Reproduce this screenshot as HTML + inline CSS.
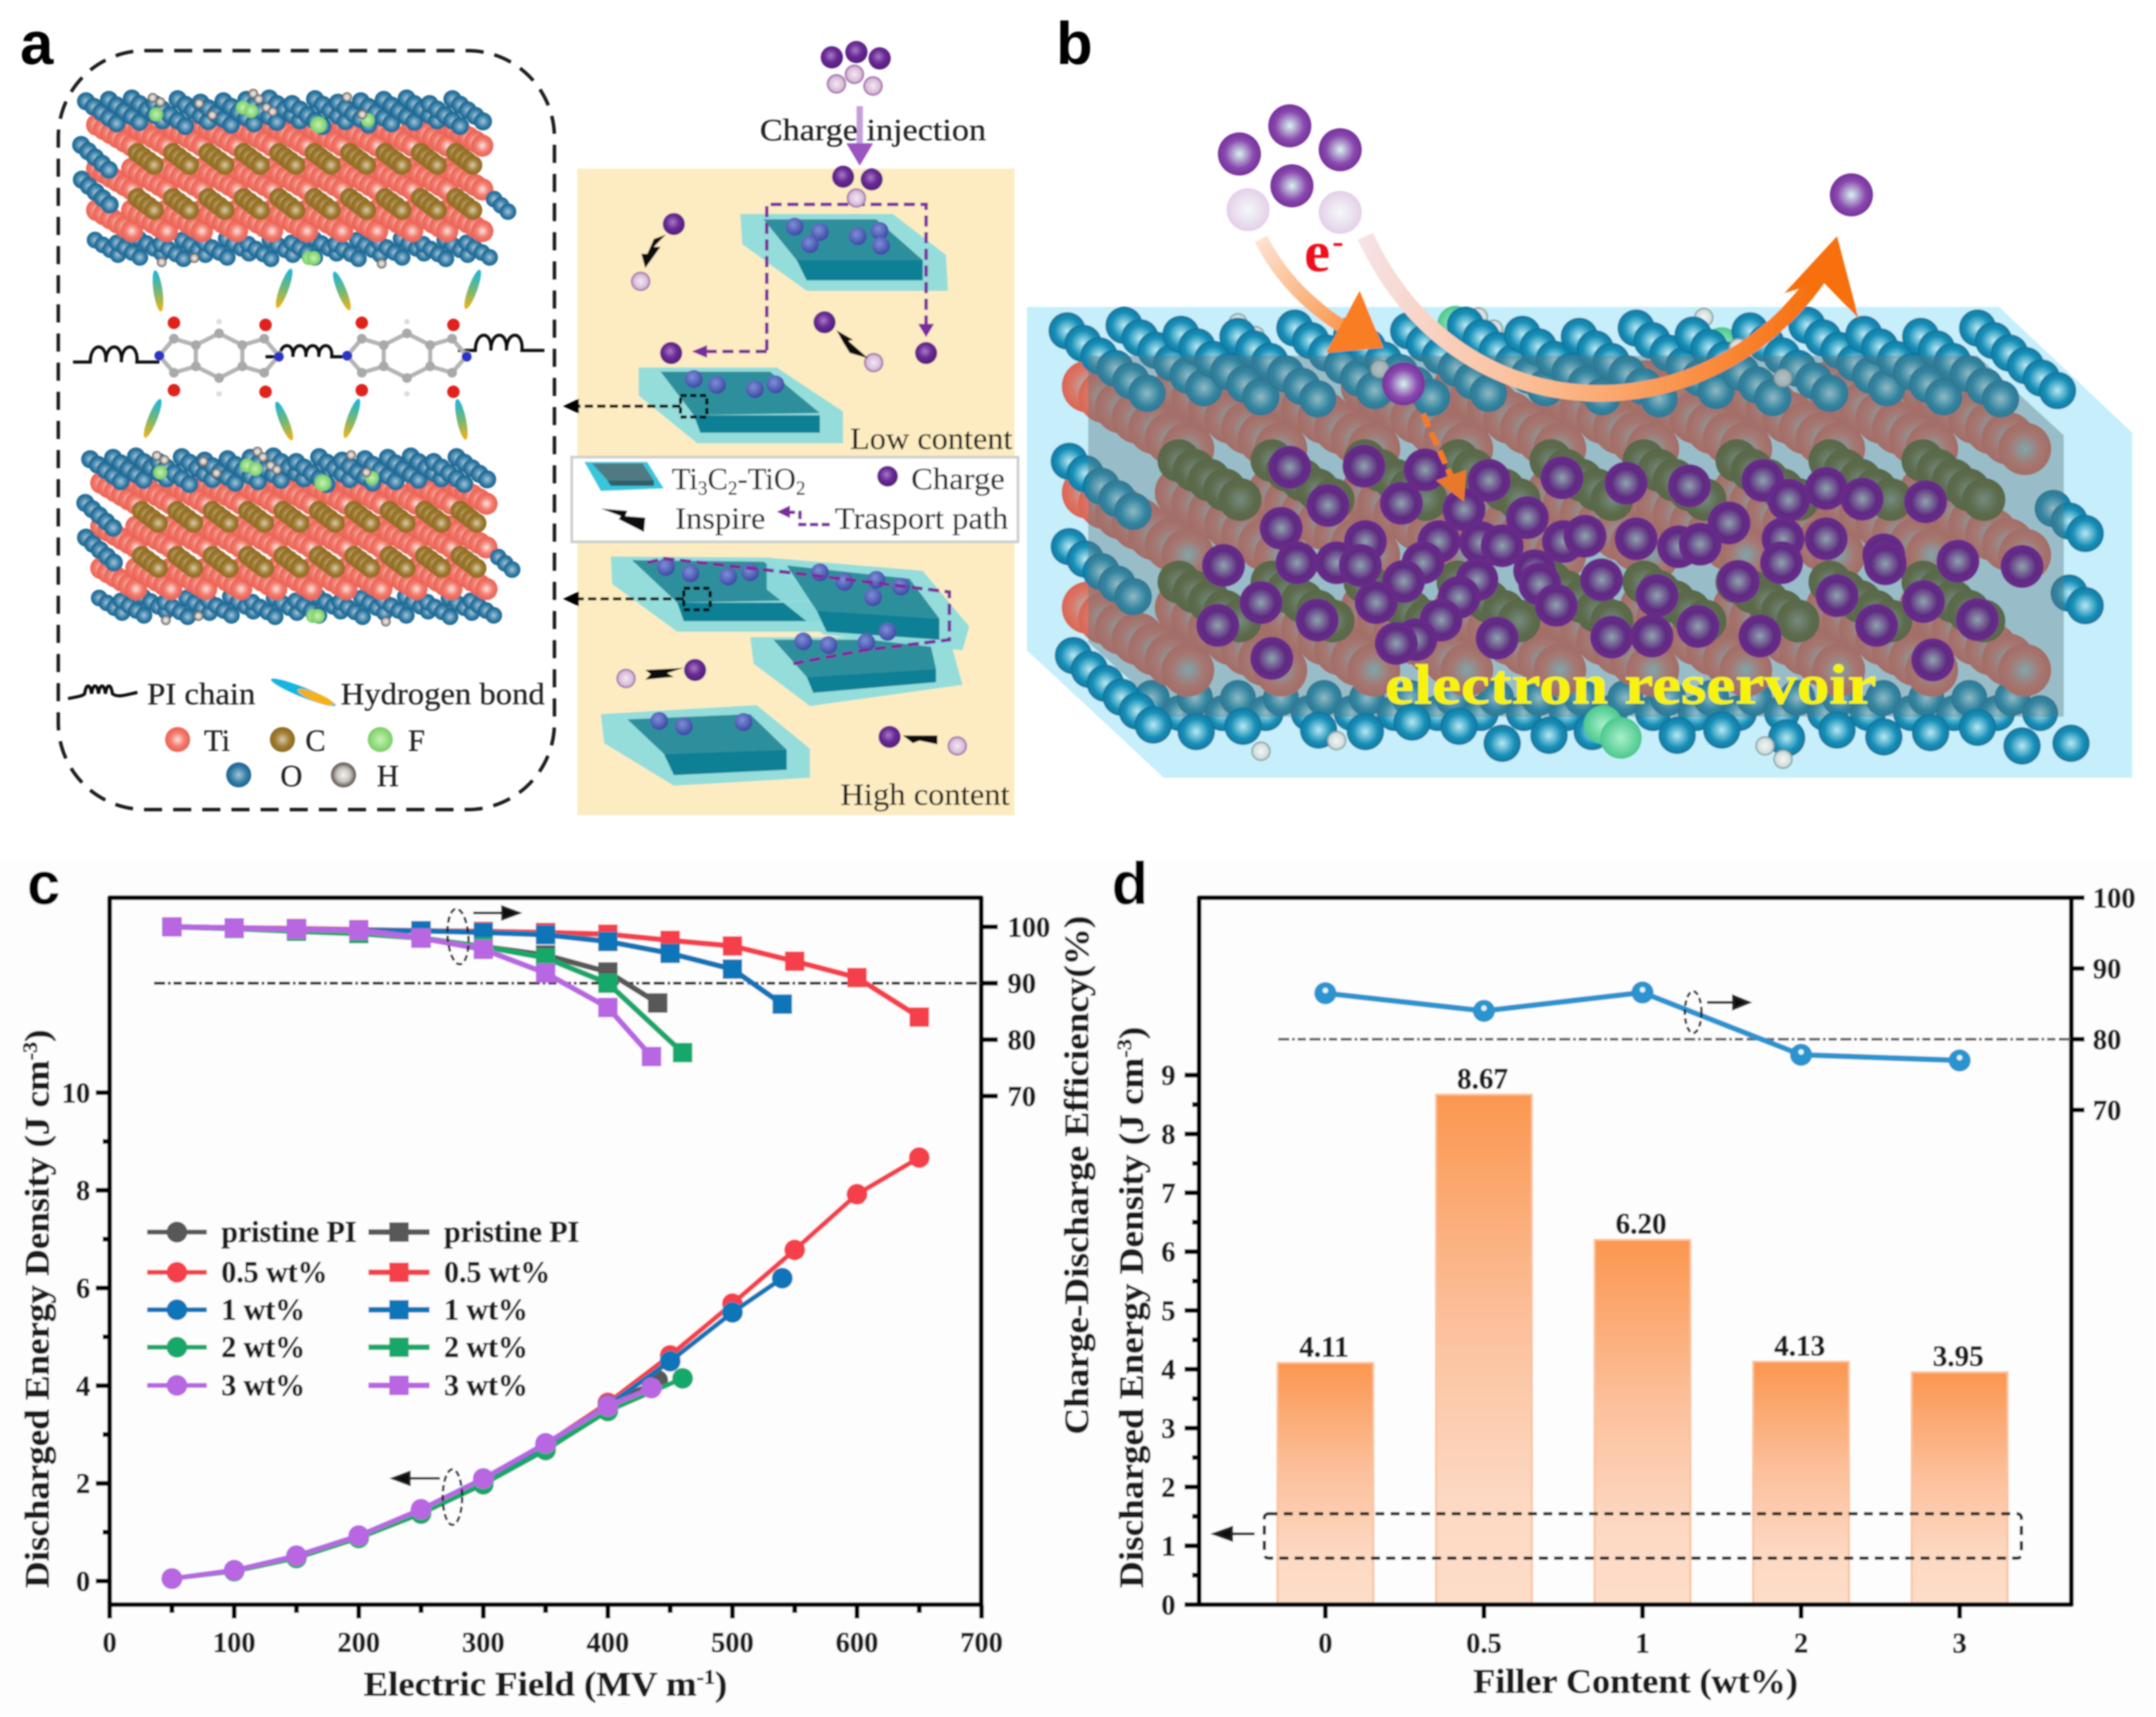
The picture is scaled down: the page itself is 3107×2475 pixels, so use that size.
<!DOCTYPE html>
<html lang="en">
<head>
<meta charset="utf-8">
<title>Electron reservoir composite figure</title>
<style>
html,body{margin:0;padding:0;background:#fff;width:3107px;height:2475px;overflow:hidden}
svg{display:block}
text{font-family:"Liberation Serif",serif;fill:#1c1c1c}
.b{font-weight:bold;stroke:#1c1c1c;stroke-width:.7px}
.lab{font-family:"Liberation Sans",sans-serif;font-weight:bold;font-size:86px;fill:#000}
.note{font-size:44px;fill:#222;stroke:#222;stroke-width:.3px}
</style>
</head>
<body>
<svg xmlns="http://www.w3.org/2000/svg" width="3107" height="2475" viewBox="0 0 3107 2475">
<defs>
<filter id="soft" filterUnits="userSpaceOnUse" x="0" y="0" width="3107" height="2475"><feGaussianBlur stdDeviation="1.1"/></filter>
<radialGradient id="gTi" cx=".5" cy=".5" r=".55"><stop offset="0" stop-color="#fce4df"/><stop offset=".5" stop-color="#f27d6f"/><stop offset="1" stop-color="#e9594b"/></radialGradient>
<radialGradient id="gC" cx=".5" cy=".5" r=".55"><stop offset="0" stop-color="#d9cbb0"/><stop offset=".55" stop-color="#a07c30"/><stop offset="1" stop-color="#86641e"/></radialGradient>
<radialGradient id="gO" cx=".5" cy=".5" r=".55"><stop offset="0" stop-color="#a9c4d6"/><stop offset=".6" stop-color="#2f7ca6"/><stop offset="1" stop-color="#175a85"/></radialGradient>
<radialGradient id="gF" cx=".5" cy=".5" r=".55"><stop offset="0" stop-color="#c8f2b4"/><stop offset="1" stop-color="#6fcb5c"/></radialGradient>
<radialGradient id="gH" cx=".5" cy=".5" r=".55"><stop offset="0" stop-color="#f4f4f4"/><stop offset=".5" stop-color="#c8c2bd"/><stop offset="1" stop-color="#3c342c"/></radialGradient>
<radialGradient id="gP" cx=".45" cy=".42" r=".6"><stop offset="0" stop-color="#a77cc4"/><stop offset=".5" stop-color="#6a2a96"/><stop offset="1" stop-color="#4f1d78"/></radialGradient>
<radialGradient id="gPale" cx=".5" cy=".5" r=".55"><stop offset="0" stop-color="#f4e9f3"/><stop offset=".65" stop-color="#d8bcd8"/><stop offset="1" stop-color="#7d3f8c"/></radialGradient>
<radialGradient id="gDot" cx=".42" cy=".38" r=".62"><stop offset="0" stop-color="#7f8fd6"/><stop offset="1" stop-color="#3a48a5"/></radialGradient>
<radialGradient id="bTi" cx=".5" cy=".5" r=".55"><stop offset="0" stop-color="#9cc8c8"/><stop offset=".55" stop-color="#dc7868"/><stop offset="1" stop-color="#d8604f"/></radialGradient>
<radialGradient id="bC" cx=".5" cy=".5" r=".55"><stop offset="0" stop-color="#8a9a80"/><stop offset=".6" stop-color="#5e6428"/><stop offset="1" stop-color="#565c1e"/></radialGradient>
<radialGradient id="bO" cx=".5" cy=".5" r=".55"><stop offset="0" stop-color="#b8eaf5"/><stop offset=".6" stop-color="#1990b8"/><stop offset="1" stop-color="#0b6f98"/></radialGradient>
<radialGradient id="bP" cx=".5" cy=".5" r=".55"><stop offset="0" stop-color="#8fa5ad"/><stop offset=".6" stop-color="#5f2a82"/><stop offset="1" stop-color="#6e2a8e"/></radialGradient>
<radialGradient id="bPt" cx=".5" cy=".5" r=".55"><stop offset="0" stop-color="#d8f5f0"/><stop offset=".6" stop-color="#8a4aae"/><stop offset="1" stop-color="#6f2a96"/></radialGradient>
<radialGradient id="bPale" cx=".5" cy=".5" r=".55"><stop offset="0" stop-color="#f4fafa"/><stop offset="1" stop-color="#e2cbe6"/></radialGradient>
<radialGradient id="bF" cx=".5" cy=".5" r=".55"><stop offset="0" stop-color="#a8f0c8"/><stop offset="1" stop-color="#3fc488"/></radialGradient>
<radialGradient id="bH" cx=".5" cy=".5" r=".55"><stop offset="0" stop-color="#f4f8f6"/><stop offset=".7" stop-color="#cfdcdc"/><stop offset="1" stop-color="#4b6562"/></radialGradient>
<linearGradient id="barFill" x1="0" y1="0" x2="0" y2="1"><stop offset="0" stop-color="#fb9750"/><stop offset=".45" stop-color="#fcc09c"/><stop offset=".8" stop-color="#fdd9c3"/><stop offset="1" stop-color="#fdddc9"/></linearGradient>
<linearGradient id="hb1" x1="0" y1="0" x2="0" y2="1"><stop offset="0" stop-color="#19b4e0"/><stop offset=".5" stop-color="#6fb878"/><stop offset="1" stop-color="#f5b112"/></linearGradient>
<linearGradient id="arrowA" gradientUnits="userSpaceOnUse" x1="1820" y1="340" x2="1990" y2="510"><stop offset="0" stop-color="#fde3d2"/><stop offset="1" stop-color="#f97d20"/></linearGradient>
<linearGradient id="arrowB" gradientUnits="userSpaceOnUse" x1="1960" y1="340" x2="2620" y2="420"><stop offset="0" stop-color="#f6e3e6"/><stop offset=".45" stop-color="#fcb98c"/><stop offset="1" stop-color="#f76f0c"/></linearGradient>
</defs>
<g filter="url(#soft)">
<rect x="0" y="1240" width="3107" height="1235" fill="#fdfdfd"/>

<!-- PANEL A -->
<g id="panelA">
<rect x="84" y="73" width="715" height="1094" rx="125" ry="125" fill="none" stroke="#1a1a1a" stroke-width="5" stroke-dasharray="26 16"/>
<rect x="832" y="243" width="630" height="932" fill="#fdecc1"/>
<g id="stacks"></g>
<g id="bonds"></g>
<g id="flakes"></g>
<rect x="824" y="659" width="643" height="122" fill="#fff" stroke="#cfcfcf" stroke-width="4"/>
<g id="aIcons"></g>
<text class="note" x="1095" y="202" textLength="326" lengthAdjust="spacingAndGlyphs">Charge  injection</text>
<text class="note" x="1225" y="647" textLength="234" lengthAdjust="spacingAndGlyphs">Low content</text>
<text class="note" x="1211" y="1160" textLength="244" lengthAdjust="spacingAndGlyphs">High content</text>
<text class="note" x="968" y="705">Ti<tspan font-size="28" dy="8">3</tspan><tspan dy="-8">C</tspan><tspan font-size="28" dy="8">2</tspan><tspan dy="-8">-TiO</tspan><tspan font-size="28" dy="8">2</tspan></text>
<text class="note" x="1313" y="705" textLength="135" lengthAdjust="spacingAndGlyphs">Charge</text>
<text class="note" x="973" y="762" textLength="130" lengthAdjust="spacingAndGlyphs">Inspire</text>
<text class="note" x="1203" y="762" textLength="250" lengthAdjust="spacingAndGlyphs">Trasport path</text>
<text class="note" x="212" y="1015" textLength="156" lengthAdjust="spacingAndGlyphs">PI chain</text>
<text class="note" x="491" y="1015" textLength="294" lengthAdjust="spacingAndGlyphs">Hydrogen bond</text>
<text class="note" x="294" y="1082">Ti</text>
<text class="note" x="440" y="1082">C</text>
<text class="note" x="588" y="1082">F</text>
<text class="note" x="404" y="1133">O</text>
<text class="note" x="543" y="1133">H</text>
</g>
<text class="lab" x="29" y="92">a</text>

<!-- PANEL B -->
<g id="panelB"></g>
<text class="lab" x="1522" y="92">b</text>

<!-- PANEL C -->
<g id="chartC"></g>
<text class="lab" x="39" y="1303">c</text>
<text class="b" font-size="50" x="524" y="2444" textLength="524" lengthAdjust="spacingAndGlyphs">Electric Field (MV m<tspan font-size="30" dy="-17">-1</tspan><tspan dy="17">)</tspan></text>
<text class="b" font-size="50" transform="translate(70,2289) rotate(-90)" textLength="805" lengthAdjust="spacingAndGlyphs">Discharged Energy Density (J cm<tspan font-size="30" dy="-17">-3</tspan><tspan dy="17">)</tspan></text>

<!-- PANEL D -->
<g id="chartD"></g>
<text class="lab" x="1602" y="1303">d</text>
<text class="b" font-size="50" x="2123" y="2440" textLength="468" lengthAdjust="spacingAndGlyphs">Filler Content (wt%)</text>
<text class="b" font-size="50" transform="translate(1647,2289) rotate(-90)" textLength="809" lengthAdjust="spacingAndGlyphs">Discharged Energy Density (J cm<tspan font-size="30" dy="-17">-3</tspan><tspan dy="17">)</tspan></text>
<text class="b" font-size="50" transform="translate(1568,2068) rotate(-90)" textLength="748" lengthAdjust="spacingAndGlyphs">Charge-Discharge Efficiency(%)</text>
</g>
</svg>

<script>
// ---------- chart c data ----------
var fieldPristine = [50,100,150,200,250,300,350,400,440];
var fieldHalf = [50,100,150,200,250,300,350,400,450,500,550,600,650];
var fieldOne = [50,100,150,200,250,300,350,400,450,500,540];
var fieldTwo = [50,100,150,200,250,300,350,400,460];
var fieldThree = [50,100,150,200,250,300,350,400,435];
var energyPristine = [0.05,0.22,0.5,0.92,1.45,2.05,2.75,3.6,4.11];
var energyHalf = [0.05,0.22,0.5,0.92,1.45,2.08,2.8,3.65,4.62,5.68,6.78,7.92,8.67];
var energyOne = [0.05,0.22,0.5,0.92,1.45,2.08,2.8,3.6,4.5,5.5,6.2];
var energyTwo = [0.05,0.2,0.47,0.88,1.38,1.98,2.68,3.48,4.15];
var energyThree = [0.05,0.22,0.52,0.93,1.47,2.1,2.82,3.58,3.95];
var effPristine = [100,99.8,99.5,99,98,96.5,95,92,86.5];
var effHalf = [100,99.8,99.7,99.5,99.3,99.2,99,98.7,97.6,96.6,93.9,91,84];
var effOne = [100,99.8,99.6,99.4,99.3,99,98.6,97.4,95.3,92.5,86.3];
var effTwo = [100,99.7,99.2,98.8,98,96.5,94.5,90,77.7];
var effThree = [100,99.8,99.6,99.4,98,96,91.8,85.7,77];
var legendLabels = ["pristine PI","0.5 wt%","1 wt%","2 wt%","3 wt%"];
var cXTicks = [0,100,200,300,400,500,600,700];
var cLeftTicks = [0,2,4,6,8,10];
var cLeftMinor = [1,3,5,7,9];
var cRightTicks = [100,90,80,70];
var cReference = 90;

// ---------- chart d data ----------
var fillerCategories = ["0","0.5","1","2","3"];
var fillerEnergy = [4.11,8.67,6.20,4.13,3.95];
var fillerEnergyLabels = ["4.11","8.67","6.20","4.13","3.95"];
var fillerEfficiency = [86.5,84,86.6,77.8,77];
var dLeftTicks = [0,1,2,3,4,5,6,7,8,9];
var dLeftMinor = [0.5,1.5,2.5,3.5,4.5,5.5,6.5,7.5,8.5];
var dRightTicks = [100,90,80,70];
var dReference = 80;

var NS = "http://www.w3.org/2000/svg";
function mk(parent, tag, attrs, txt) {
  var el = document.createElementNS(NS, tag);
  for (var k in attrs) el.setAttribute(k, attrs[k]);
  if (txt !== undefined) el.textContent = txt;
  parent.appendChild(el);
  return el;
}
function $(id){ return document.getElementById(id); }

// ---------- axis functions ----------
function cX(v){ return 158 + v * 1.795; }
function cYL(v){ return 2279 - v * 70.4; }
function cYR(v){ return 1336 + (100 - v) * 8.13; }
function dCat(i){ return 1910 + i * 228.5; }
function dYL(v){ return 2313 - v * 84.8; }
function dYR(v){ return 1294 + (100 - v) * 10.2; }

function drawFrame(g, l, r){
  var el = mk(g, "path", {d:"M"+l+",2313V1294H"+r+"V2313H"+l, fill:"none", stroke:"#000", "stroke-width":7, "stroke-linejoin":"round"});
  
  
}
function tick(g, x1, y1, x2, y2){
  var el = mk(g, "line", {x1:x1,y1:y1,x2:x2,y2:y2,stroke:"#000","stroke-width":7});
  
  
}
function label(g, x, y, s, anchor){
  var el = mk(g, "text", {x:x,y:y,"class":"b","font-size":41,"text-anchor":anchor,dy:".34em"}, s);
  
  
}

// ---------- chart c ----------
(function(){
  var g = $("chartC");
  drawFrame(g, 158, 1414);
  cXTicks.forEach(function(v){
    tick(g, cX(v), 2313, cX(v), 2333);
    label(g, cX(v), 2367, String(v), "middle");
    if (v < 700) tick(g, cX(v+50), 2313, cX(v+50), 2325);
  });
  cLeftTicks.forEach(function(v){
    tick(g, 158, cYL(v), 138, cYL(v));
    label(g, 130, cYL(v), String(v), "end");
  });
  cLeftMinor.forEach(function(v){ tick(g, 158, cYL(v), 148, cYL(v)); });
  cRightTicks.forEach(function(v){
    tick(g, 1414, cYR(v), 1438, cYR(v));
    label(g, 1452, cYR(v), String(v), "start");
  });
  var ref = mk(g, "line", {x1:222,x2:1414,y1:cYR(cReference),y2:cYR(cReference),stroke:"#222","stroke-width":4,"stroke-dasharray":"16 4 4 4 12 5"});
  
  

  var colors = ["#585858","#f5414c","#0d74b8","#12a86a","#b866e2"];
  var xs = [fieldPristine, fieldHalf, fieldOne, fieldTwo, fieldThree];
  var es = [energyPristine, energyHalf, energyOne, energyTwo, energyThree];
  var fs = [effPristine, effHalf, effOne, effTwo, effThree];

  es.forEach(function(series, s){
    var pts = series.map(function(v,i){ return cX(xs[s][i]) + "," + cYL(v); }).join(" ");
    var ln = mk(g, "polyline", {points:pts, fill:"none", stroke:colors[s], "stroke-width":7});
    
    
    series.forEach(function(v,i){
      var c = mk(g, "circle", {cx:cX(xs[s][i]), cy:cYL(v), r:15, fill:colors[s]});
      
      
    });
  });
  fs.forEach(function(series, s){
    var pts = series.map(function(v,i){ return cX(xs[s][i]) + "," + cYR(v); }).join(" ");
    var ln = mk(g, "polyline", {points:pts, fill:"none", stroke:colors[s], "stroke-width":8});
    
    
    series.forEach(function(v,i){
      var c = mk(g, "rect", {x:cX(xs[s][i])-14, y:cYR(v)-14, width:28, height:28, fill:colors[s]});
      
      
    });
  });

  // legend
  var rows = [1776,1834,1888,1942,1997];
  legendLabels.forEach(function(t,i){
    var y = rows[i];
    var l1 = mk(g,"line",{x1:212,x2:298,y1:y,y2:y,stroke:colors[i],"stroke-width":7});
    
    
    var c = mk(g,"circle",{cx:255,cy:y,r:15,fill:colors[i]});
    
    
    var t1 = mk(g,"text",{x:319,y:y,dy:".32em","class":"b","font-size":43},t);
    
    
    var l2 = mk(g,"line",{x1:531,x2:619,y1:y,y2:y,stroke:colors[i],"stroke-width":8});
    
    
    var r = mk(g,"rect",{x:561,y:y-14,width:28,height:28,fill:colors[i]});
    
    
    var t2 = mk(g,"text",{x:640,y:y,dy:".32em","class":"b","font-size":43},t);
    
    
  });

  // annotations
  var e1 = mk(g,"ellipse",{cx:660,cy:1350,rx:15,ry:40,fill:"none",stroke:"#222","stroke-width":3.5,"stroke-dasharray":"9 5",transform:"rotate(-4 660 1350)"});
  
  
  var a1 = mk(g,"path",{d:"M682,1316H724M724,1307L748,1316L724,1325Z",stroke:"#222","stroke-width":3.5,fill:"#111"});
  
  
  var e2 = mk(g,"ellipse",{cx:652,cy:2158,rx:14,ry:40,fill:"none",stroke:"#222","stroke-width":3.5,"stroke-dasharray":"9 5"});
  
  
  var a2 = mk(g,"path",{d:"M634,2131H590M590,2122L566,2131L590,2140Z",stroke:"#222","stroke-width":3.5,fill:"#111"});
  
  
})();

// ---------- chart d ----------
(function(){
  var g = $("chartD");
  fillerEnergy.forEach(function(v,i){
    var r = mk(g,"rect",{x:dCat(i)-69,y:dYL(v),width:138,height:2313-dYL(v),fill:"url(#barFill)",stroke:"#fcc29c","stroke-width":3});
    
    
    var t = mk(g,"text",{x:dCat(i)-2,y:dYL(v)-9,"class":"b","font-size":42,"text-anchor":"middle"},fillerEnergyLabels[i]);
    
    
  });
  drawFrame(g, 1728, 2985);
  tick(g, 1728, 2313, 1707, 2313);
  fillerCategories.forEach(function(c,i){
    tick(g, dCat(i), 2313, dCat(i), 2333);
    label(g, dCat(i), 2368, c, "middle");
  });
  dLeftTicks.forEach(function(v){
    if (v > 0) tick(g, 1728, dYL(v), 1707, dYL(v));
    label(g, 1694, dYL(v), String(v), "end");
  });
  dLeftMinor.forEach(function(v){ tick(g, 1728, dYL(v), 1718, dYL(v)); });
  dRightTicks.forEach(function(v){
    tick(g, 2985, dYR(v), 3004, dYR(v));
    label(g, 3016, dYR(v), String(v), "start");
  });
  var ref = mk(g,"line",{x1:1842,x2:2985,y1:dYR(dReference),y2:dYR(dReference),stroke:"#666","stroke-width":4,"stroke-dasharray":"16 4 4 4 12 5"});
  
  
  var pts = fillerEfficiency.map(function(v,i){ return dCat(i)+","+dYR(v); }).join(" ");
  var ln = mk(g,"polyline",{points:pts,fill:"none",stroke:"#2a94d0","stroke-width":8});
  
  
  fillerEfficiency.forEach(function(v,i){
    var c = mk(g,"circle",{cx:dCat(i),cy:dYR(v),r:16,fill:"#2a94d0"});
    
    
    var h = mk(g,"circle",{cx:dCat(i),cy:dYR(v)-4,r:4,fill:"#dff3fc"});
    
    
  });
  var box = mk(g,"rect",{x:1822,y:2182,width:1091,height:64,rx:6,fill:"none",stroke:"#222","stroke-width":4.5,"stroke-dasharray":"13 9"});
  
  
  var a = mk(g,"path",{d:"M1808,2211H1775M1775,2202L1750,2211L1775,2220Z",stroke:"#222","stroke-width":4,fill:"#111"});
  
  
  var e = mk(g,"ellipse",{cx:2440,cy:1459,rx:12,ry:30,fill:"none",stroke:"#222","stroke-width":3.5,"stroke-dasharray":"8 5"});
  
  
  var a2 = mk(g,"path",{d:"M2460,1445H2498M2498,1436L2520,1445L2498,1454Z",stroke:"#222","stroke-width":4,fill:"#111"});
  
  
})();

// ---------- panel a ----------
function ax(z){ return z * 0.9567; }
function ay(z){ return z * 0.7653; }
function bx(z){ return 1480 + z * 1.0376; }
function by(z){ return z * 0.7653; }

function aAtom(g, zx, zy, r, fill){
  var c = mk(g,"circle",{cx:ax(zx),cy:ay(zy),r:r,fill:fill});
  
  
  return c;
}
function pAtom(g, x, y, r, fill){
  var c = mk(g,"circle",{cx:x,cy:y,r:r,fill:fill});
  
  
  return c;
}
function aPoly(g, pts, fill, op){
  var s = [];
  for (var i=0;i<pts.length;i+=2) s.push(ax(pts[i])+","+ay(pts[i+1]));
  var p = mk(g,"polygon",{points:s.join(" "),fill:fill,"fill-opacity":op===undefined?1:op});
  
  
  return p;
}
function aPath(pts){
  var s = "M";
  for (var i=0;i<pts.length;i+=2) s += (i?"L":"") + ax(pts[i]) + "," + ay(pts[i+1]);
  return s;
}

// columns of atoms receding up-left from a front row
function layer(g, x0, y, step, count, depth, dx, dy, r, fill, wob){
  for (var c=0; c<count; c++){
    var yy = y + (wob ? wob[c % wob.length] : 0);
    for (var d=depth-1; d>=0; d--){
      pAtom(g, x0 + c*step - d*dx, yy - d*dy, r, fill);
    }
  }
}
function stack(g, ox, oy){
  layer(g, 170+ox, 367+oy, 31.5, 18, 4, 11, 7, 12, "url(#gO)", [0,4,-2,6]);
  layer(g, 190+ox, 333+oy, 50.5, 11, 6, 10, 6, 16, "url(#gTi)");
  layer(g, 190+ox, 273+oy, 50.5, 11, 6, 10, 6, 16, "url(#gTi)");
  layer(g, 190+ox, 210+oy, 50.5, 11, 6, 10, 6, 16, "url(#gTi)");
  layer(g, 222+ox, 303+oy, 51, 10, 4, 8, 6, 14, "url(#gC)");
  layer(g, 222+ox, 238+oy, 51, 10, 4, 8, 6, 14, "url(#gC)");
  layer(g, 168+ox, 178+oy, 33, 17, 5, 11, 8, 13, "url(#gO)", [0,-2,-4,4,-3,2]);
  layer(g, 157+ox, 245+oy, 1, 1, 5, 10, 9, 13, "url(#gO)");
  layer(g, 158+ox, 295+oy, 1, 1, 5, 10, 9, 13, "url(#gO)");
  layer(g, 732+ox, 305+oy, 1, 1, 3, 10, 9, 12, "url(#gO)");
  [[459,180],[225,165],[350,155],[362,160],[445,372],[452,372],[530,173]].forEach(function(p,i){
    pAtom(g,p[0]+ox,p[1]+oy,i<1?12:10,"url(#gF)");
  });
  [[220,141],[231,147],[287,149],[306,166],[365,135],[373,143],[384,155],[393,161],[233,378],[280,372],[500,140],[522,165],[550,380]].forEach(function(p){
    pAtom(g,p[0]+ox,p[1]+oy,7,"url(#gH)");
  });
}
stack($("stacks"),0,0);
stack($("stacks"),6,516);

(function(){
  var g = $("bonds");
  var upper = [[238,548,-8],[428,543,20],[515,548,-22],[712,545,20]];
  var lower = [[230,788,22],[428,793,-22],[530,788,20],[695,790,-12]];
  upper.concat(lower).forEach(function(p){
    var e = mk(g,"ellipse",{cx:ax(p[0]),cy:ay(p[1]),rx:6.5,ry:30,fill:"url(#hb1)",transform:"rotate("+p[2]+" "+ax(p[0])+" "+ay(p[1])+")"});
    
    
  });
  function wave(x0,x1,y,amp,n){
    var d = "M"+ax(x0)+","+ay(y);
    var w = (x1-x0)/(n+2), x = x0+w;
    d += "L"+ax(x)+","+ay(y);
    for (var i=0;i<n;i++){
      d += "C"+ax(x)+","+ay(y-amp)+" "+ax(x+w)+","+ay(y-amp)+" "+ax(x+w*.9)+","+ay(y);
      x += w*.9;
    }
    d += "L"+ax(x1)+","+ay(y);
    return d;
  }
  [[110,240,682,38,3],[400,530,672,28,4],[690,820,660,38,3]].forEach(function(p){
    var w = mk(g,"path",{d:wave(p[0],p[1],p[2],p[3],p[4]),fill:"none",stroke:"#111","stroke-width":4.5});
    
    
  });
  [330,613].forEach(function(cx){
    var nodes = [[cx,628],[cx+35,650],[cx+35,690],[cx,712],[cx-35,690],[cx-35,650],[cx-68,638],[cx-90,670],[cx-68,702],[cx+68,638],[cx+90,670],[cx+68,702]];
    var bonds = [[0,1],[1,2],[2,3],[3,4],[4,5],[5,0],[5,6],[6,7],[7,8],[8,4],[1,9],[9,10],[10,11],[11,2]];
    bonds.forEach(function(b){
      var l = mk(g,"line",{x1:ax(nodes[b[0]][0]),y1:ay(nodes[b[0]][1]),x2:ax(nodes[b[1]][0]),y2:ay(nodes[b[1]][1]),stroke:"#b4b4b4","stroke-width":6});
      
      
    });
    nodes.forEach(function(n){ aAtom(g,n[0],n[1],7,"#a9a9a9"); });
    aAtom(g,cx-90,670,7,"#2a34c8"); aAtom(g,cx+90,672,7,"#2a34c8");
    aAtom(g,cx-68,608,9,"#e0201c"); aAtom(g,cx+70,612,9,"#e0201c");
    aAtom(g,cx-68,735,9,"#e0201c"); aAtom(g,cx+70,738,9,"#e0201c");
    aAtom(g,cx,606,4,"#ddd"); aAtom(g,cx,742,4,"#ddd");
  });
})();

(function(){
  var g = $("flakes");
  var teal = "#8fdcdc", dark = "#2d8f9c", deep = "#0f8095";
  function flake(outer, top, front){
    aPoly(g, outer, teal, .95);
    aPoly(g, top, dark);
    aPoly(g, front, deep);
  }
  flake([1115,403,1345,403,1425,480,1428,548,1215,548,1118,460],[1150,413,1320,413,1390,490,1200,490],[1200,490,1390,490,1390,528,1215,528]);
  flake([962,692,1170,692,1270,775,1270,835,1050,835,962,745],[995,700,1160,700,1235,778,1045,782],[1045,782,1235,782,1235,815,1055,815]);
  flake([920,1048,1160,1050,1280,1140,1280,1190,1020,1190,922,1100],[952,1055,1150,1058,1240,1130,1020,1135],[1020,1135,1240,1135,1240,1170,1030,1170]);
  flake([1130,1200,1430,1200,1450,1290,1220,1330,1135,1250],[1165,1205,1400,1205,1410,1260,1215,1275],[1215,1275,1410,1260,1410,1285,1225,1305]);
  flake([1155,1050,1390,1075,1460,1180,1450,1225,1240,1195,1155,1110],[1185,1065,1370,1090,1415,1165,1230,1150],[1230,1150,1415,1165,1415,1205,1245,1190]);
  flake([905,1345,1140,1328,1220,1410,1220,1465,1015,1480,910,1400],[945,1355,1130,1345,1185,1412,1000,1420],[1000,1420,1185,1412,1185,1450,1015,1460]);

  [[1197,427],[1235,437],[1220,460],[1292,445],[1325,435],[1327,463],[1045,714],[1080,725],[1137,733],[1168,724],
   [1003,1068],[1040,1080],[1097,1086],[1130,1078],[1235,1078],[1272,1096],[1320,1092],[1357,1105],[1315,1125],[1210,1208],[1248,1215],[1305,1210],[1337,1190],[993,1358],[1030,1368],[1120,1360]]
   .forEach(function(p){ aAtom(g,p[0],p[1],13,"url(#gDot)"); });

  function dashed(pts){
    var p = mk(g,"path",{d:aPath(pts),fill:"none",stroke:"#7b2a9e","stroke-width":5,"stroke-dasharray":"16 8"});
    
    
    return p;
  }
  dashed([1155,660,1155,385,1395,385,1395,615]);
  dashed([1155,662,1065,662]);
  dashed([975,1060,1000,1052,1200,1080,1430,1115,1430,1205,1300,1225,1195,1250]);
  aPoly(g,[1383,610,1407,610,1395,635],"#7b2a9e");
  aPoly(g,[1065,650,1065,674,1042,662],"#7b2a9e");

  [[1015,422],[1242,607],[1011,665],[1395,665],[1047,1262],[1340,1388],[1270,333],[1313,338],[1253,108],[1290,98],[1325,110]]
    .forEach(function(p){ aAtom(g,p[0],p[1],16,"url(#gP)"); });
  [[965,530],[1316,683],[943,1278],[1442,1405],[1290,373],[1260,158],[1287,140],[1315,162]]
    .forEach(function(p){ aAtom(g,p[0],p[1],14,"url(#gPale)"); });

  [[1003,442,985,465,995,465,972,505,966,478,975,478,985,450],
   [1260,622,1285,640,1278,642,1308,675,1280,665,1270,645],
   [972,1262,1030,1258,1005,1268,1015,1275,972,1280,980,1270],
   [1360,1385,1412,1385,1412,1402,1385,1395,1375,1400]].forEach(function(b){ aPoly(g,b,"#0a0a0a"); });

  var ar = mk(g,"path",{d:"M"+ax(1295)+","+ay(200)+"V"+ay(295),stroke:"#c4a0da","stroke-width":9,fill:"none"});
  
  
  aPoly(g,[1275,270,1315,270,1295,312],"#9a55c0");

  [[765,1025,745],[1128,1030,1108]].forEach(function(a){
    var l = mk(g,"line",{x1:ax(a[1]),y1:ay(a[0]),x2:ax(870),y2:ay(a[0]),stroke:"#000","stroke-width":4.5,"stroke-dasharray":"12 6"});
    
    
    aPoly(g,[872,a[0]-14,872,a[0]+14,848,a[0]],"#000");
    var s = mk(g,"rect",{x:ax(a[1]),y:ay(a[2]),width:38,height:31,fill:"none",stroke:"#000","stroke-width":4.5,"stroke-dasharray":"9 5"});
    
    
  });
})();

(function(){
  var g = $("aIcons");
  aPoly(g,[880,870,975,870,1000,920,905,925],"#39c6dd");
  aPoly(g,[892,873,968,873,985,905,915,905],"#4f7a84");
  aPoly(g,[915,905,985,905,985,915,920,915],"#2f5f68");
  aAtom(g,1337,897,15,"url(#gP)");
  aPoly(g,[905,958,945,962,942,972,972,975,970,1002,932,978,935,972],"#0a0a0a");
  var p = mk(g,"path",{d:aPath([1185,965,1205,965,1205,988,1250,988]),fill:"none",stroke:"#7b2a9e","stroke-width":5,"stroke-dasharray":"12 5"});
  
  
  aPoly(g,[1190,952,1190,976,1170,964],"#7b2a9e");

  var w = mk(g,"path",{d:"M98,1007C112,1004 118,1004 122,1000C124,985 130,985 132,1000C134,985 140,985 142,1000C144,985 150,985 152,1000C154,985 160,985 162,1000C170,1006 180,1002 198,998",fill:"none",stroke:"#111","stroke-width":4.5});
  
  
  var e = mk(g,"ellipse",{cx:437,cy:998,rx:50,ry:7,fill:"#19b4e0",transform:"rotate(22 437 998)"});
  
  
  var e2 = mk(g,"ellipse",{cx:455,cy:1005,rx:28,ry:6,fill:"#f5b112",transform:"rotate(22 455 1005)"});
  
  
  [[256,1066,"url(#gTi)"],[407,1066,"url(#gC)"],[548,1066,"url(#gF)"],[344,1117,"url(#gO)"],[495,1117,"url(#gH)"]].forEach(function(a){
    var c = mk(g,"circle",{cx:a[0],cy:a[1],r:18,fill:a[2]});
    
    
  });
})();

// ---------- panel b ----------
(function(){
  var g = $("panelB");
  function poly(pts, fill, op){
    var s = [];
    for (var i=0;i<pts.length;i+=2) s.push(bx(pts[i])+","+by(pts[i+1]));
    var p = mk(g,"polygon",{points:s.join(" "),fill:fill,"fill-opacity":op===undefined?1:op});
    
    
    return p;
  }
  function at(zx, zy, r, fill){
    pAtom(g, bx(zx), by(zy), r, fill);
  }
  poly([0,578,1350,578,1535,815,1535,1465,190,1465,0,1225],"#c6effb");

  // layers beneath the translucent slab
  layer(g, 1700, 1028, 62, 21, 2, 40, 22, 26, "url(#bO)");
  [[320,700],[595,610],[845,740],[965,650]].forEach(function(p){ at(p[0],p[1],26,"url(#bF)"); });
  [[293,608],[317,632],[627,597],[648,620],[940,598]].forEach(function(p){ at(p[0],p[1],14,"url(#bH)"); });
  layer(g, 1712, 966, 134, 10, 7, 24, 15, 38, "url(#bTi)");
  layer(g, 1712, 800, 134, 10, 7, 24, 15, 38, "url(#bTi)");
  layer(g, 1712, 647, 134, 10, 7, 24, 15, 38, "url(#bTi)");
  layer(g, 1787, 895, 134, 9, 5, 22, 14, 31, "url(#bC)");
  layer(g, 1787, 720, 134, 9, 5, 22, 14, 31, "url(#bC)");
  layer(g, 1653, 567, 82, 17, 6, 23, 18, 27, "url(#bO)", [0,-8,5,8,-4,6]);
  layer(g, 1633, 737, 1, 1, 5, 23, 18, 27, "url(#bO)");
  layer(g, 1633, 860, 1, 1, 5, 23, 18, 27, "url(#bO)");
  layer(g, 1662, 1045, 1, 1, 6, 23, 20, 27, "url(#bO)");
  layer(g, 3005, 769, 1, 1, 3, 23, 18, 27, "url(#bO)");
  layer(g, 3005, 873, 1, 1, 2, 23, 18, 27, "url(#bO)");
  [[988,655],[1050,712],[490,695]].forEach(function(p){ at(p[0],p[1],14,"url(#bH)"); });

  poly([85,670,1320,670,1440,820,1440,1350,200,1350,85,1210],"#5a7880",.42);

  [[235,1378],[300,1368],[405,1375],[470,1378],[535,1360],[600,1368],[660,1400],[725,1385],[785,1378],[903,1385],[965,1375],[1055,1390],[1125,1375],[1190,1388],[1255,1380],[1320,1370],[1382,1405],[1450,1400]].forEach(function(p){ at(p[0],p[1],27,"url(#bO)"); });
  at(800,1365,28,"url(#bF)");
  at(825,1390,30,"url(#bF)");
  [[325,1415],[430,1395],[1050,1430],[1025,1405]].forEach(function(p){ at(p[0],p[1],14,"url(#bH)"); });

  [[365,880],[468,878],[553,885],[642,905],[743,900],[832,910],[920,915],[1022,905],[1058,942],[1110,920],[1160,940],[1248,945],[418,952],[520,948],[607,960],[695,975],[975,985],[353,995],[470,1020],[572,1020],[630,1022],[660,1028],[745,1020],[775,1010],[846,1015],[905,1030],[935,1025],[1050,1015],[1110,1015],[1190,1045],[1192,1062],[1293,1057],[1382,1067],[273,1065],[375,1060],[430,1060],[463,1065],[550,1060],[1048,1060],[523,1095],[625,1092],[705,1075],[712,1100],[798,1092],[988,1095],[325,1135],[485,1135],[600,1125],[735,1140],[875,1122],[1125,1122],[1245,1133],[265,1178],[403,1168],[575,1168],[1320,1167],[1180,1178],[932,1180],[1018,1198],[812,1200],[868,1198],[653,1202],[540,1205],[513,1212],[340,1240],[1258,1243]]
    .forEach(function(p){ at(p[0],p[1],31,"url(#bP)"); });
  [[295,290],[365,237],[435,282],[368,350],[1145,367],[523,723]].forEach(function(p){ at(p[0],p[1],31,"url(#bPt)"); });
  [[307,395],[435,400]].forEach(function(p){ at(p[0],p[1],31,"url(#bPale)"); });

  var a1 = mk(g,"path",{d:"M"+bx(325)+","+by(450)+"Q"+bx(370)+","+by(570)+" "+bx(470)+","+by(640),fill:"none",stroke:"url(#arrowA)","stroke-width":20});
  
  
  poly([462,548,495,655,415,665],"#f97d20");
  var a2 = mk(g,"path",{d:"M"+bx(470)+","+by(445)+"C"+bx(600)+","+by(828)+" "+bx(950)+","+by(828)+" "+bx(1105)+","+by(510),fill:"none",stroke:"url(#arrowB)","stroke-width":24});
  
  
  poly([1125,445,1155,600,1105,530,1052,552],"#f76f0c");
  var a3 = mk(g,"path",{d:"M"+bx(550)+","+by(780)+"L"+bx(590)+","+by(900),fill:"none",stroke:"#f57a20","stroke-width":8,"stroke-dasharray":"20 9"});
  
  
  poly([568,905,610,885,607,945],"#e9782c");

  var e = mk(g,"text",{x:bx(385),y:by(510),"font-size":84,"font-weight":"bold",style:"fill:#f0101a"},"e");
  
  
  var m = mk(g,"text",{x:bx(424),y:by(475),"font-size":48,"font-weight":"bold",style:"fill:#f0101a"},"-");
  
  
  var t = mk(g,"text",{x:1996,y:1014,"font-size":82,"font-weight":"bold",textLength:708,lengthAdjust:"spacingAndGlyphs",style:"fill:#f7f30a;stroke:#f7f30a;stroke-width:.8px"},"electron reservoir");
  
  
})();
</script>
</body>
</html>
